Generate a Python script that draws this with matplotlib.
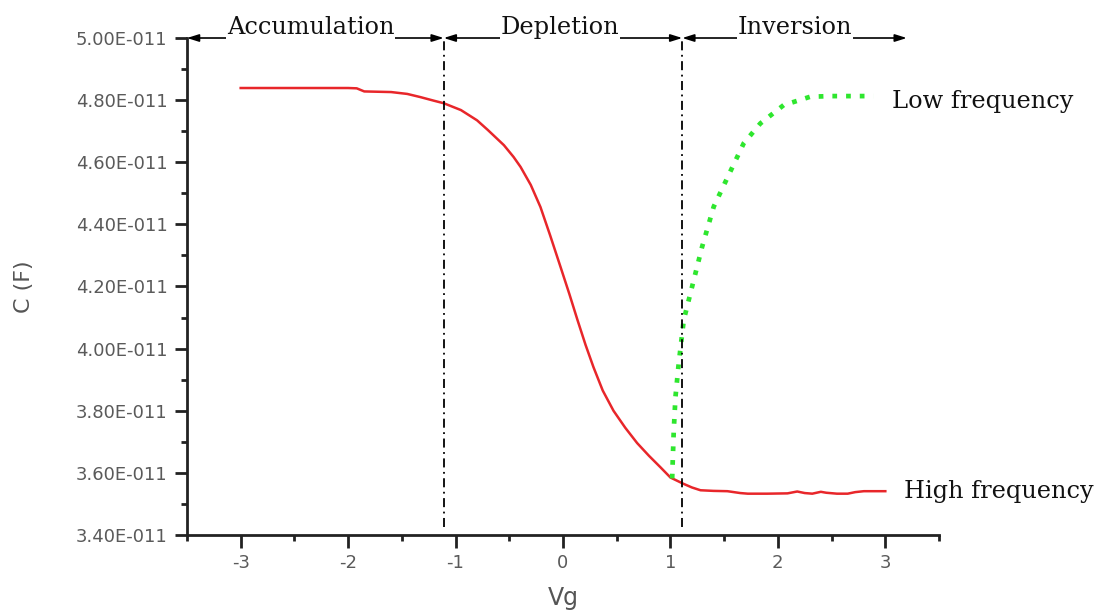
import numpy as np
import matplotlib
matplotlib.use("Agg")
import matplotlib.pyplot as plt
from matplotlib.ticker import FuncFormatter, MultipleLocator

# High-frequency C-V curve (Vg in V, C in units of 1e-11 F)
hf_vg = [-3.0, -2.5, -2.0, -1.92, -1.85, -1.6, -1.45, -1.33, -1.2, -1.11, -0.95, -0.8,
         -0.7, -0.55, -0.46, -0.395, -0.3, -0.21, -0.12, -0.023, 0.06, 0.135, 0.21, 0.284,
         0.37, 0.47, 0.58, 0.69, 0.8, 0.907, 1.0, 1.12, 1.2, 1.28, 1.4, 1.53, 1.65, 1.72, 1.9,
         2.09, 2.18, 2.25, 2.32, 2.4, 2.45, 2.55, 2.65, 2.72, 2.8, 3.0]
hf_c = [4.839, 4.839, 4.839, 4.838, 4.828, 4.826, 4.820, 4.810, 4.798, 4.790, 4.768, 4.735,
        4.704, 4.655, 4.617, 4.585, 4.527, 4.456, 4.365, 4.263, 4.175, 4.092, 4.012, 3.940,
        3.865, 3.800, 3.745, 3.696, 3.655, 3.618, 3.585, 3.565, 3.553, 3.544, 3.542, 3.541, 3.535,
        3.533, 3.533, 3.534, 3.540, 3.535, 3.533, 3.539, 3.536, 3.533, 3.533, 3.538, 3.541, 3.541]

# Low-frequency branch
lf_vg = [1.016, 1.031, 1.047, 1.077, 1.124, 1.186, 1.295, 1.403, 1.527, 1.682, 1.837,
         2.054, 2.302, 2.5, 2.89]
lf_c = [3.582, 3.737, 3.845, 3.952, 4.092, 4.178, 4.328, 4.457, 4.548, 4.661, 4.725,
        4.784, 4.811, 4.813, 4.813]

# Region boundaries and labels
boundaries = [-1.11, 1.11]
regions = ["Accumulation", "Depletion", "Inversion"]
region_spans = [(-3.5, -1.11), (-1.11, 1.11), (1.11, 3.2)]
region_text_x = [-2.35, -0.03, 2.16]

fig = plt.figure(figsize=(11.05, 6.15), dpi=100)
ax = fig.add_axes([0.1692, 0.1301, 0.8498 - 0.1692, 0.9382 - 0.1301])

ax.plot(hf_vg, hf_c, color="#e8262a", lw=1.8)
ax.plot(lf_vg, lf_c, color="#2ee62e", lw=3.4,
        linestyle=(0, (1, 1.9)), dash_capstyle="butt")

ax.set_xlim(-3.5, 3.5)
ax.set_ylim(3.4, 5.0)

for b in boundaries:
    ax.plot([b, b], [3.425, 5.0], color="black", lw=1.3,
            linestyle=(0, (5, 2.5, 1, 2.5)), clip_on=False)

serif = "DejaVu Serif"
for (x0, x1), name, tx in zip(region_spans, regions, region_text_x):
    ax.annotate("", xy=(x1, 5.0), xytext=(x0, 5.0),
                arrowprops=dict(arrowstyle="<|-|>,head_length=0.7,head_width=0.22",
                                color="black", lw=1.2, shrinkA=0, shrinkB=0),
                annotation_clip=False)
    ax.annotate(name, xy=(tx, 5.0), xytext=(0, 3), textcoords="offset points",
                ha="center", va="baseline", fontsize=17.3, family=serif, color="#111111",
                bbox=dict(facecolor="white", edgecolor="none", pad=0.3),
                annotation_clip=False)

ax.text(3.065, 4.797, "Low frequency", ha="left", va="center", fontsize=17.3,
        family=serif, color="#111111", clip_on=False)
ax.text(3.17, 3.541, "High frequency", ha="left", va="center", fontsize=17.3,
        family=serif, color="#111111", clip_on=False)

ax.spines["top"].set_visible(False)
ax.spines["right"].set_visible(False)
for s in ["left", "bottom"]:
    ax.spines[s].set_linewidth(2.0)
    ax.spines[s].set_color("#222222")

ax.xaxis.set_major_locator(MultipleLocator(1))
ax.xaxis.set_minor_locator(MultipleLocator(0.5))
ax.yaxis.set_major_locator(MultipleLocator(0.2))
ax.yaxis.set_minor_locator(MultipleLocator(0.1))

ax.yaxis.set_major_formatter(FuncFormatter(lambda v, p: f"{v:.2f}E-011"))
ax.xaxis.set_major_formatter(FuncFormatter(lambda v, p: str(int(round(v)))))

ax.tick_params(axis="both", which="major", direction="out", length=9, width=2,
               color="#222222", labelsize=13, labelcolor="#5a5a5a", pad=5)
ax.tick_params(axis="both", which="minor", direction="out", length=4, width=2,
               color="#222222")

ax.set_xlabel("Vg", fontsize=17, color="#555555", labelpad=10)
ax.set_ylabel("C (F)", fontsize=16, color="#555555", labelpad=30)

fig.savefig("out.png", dpi=100, facecolor="white")
